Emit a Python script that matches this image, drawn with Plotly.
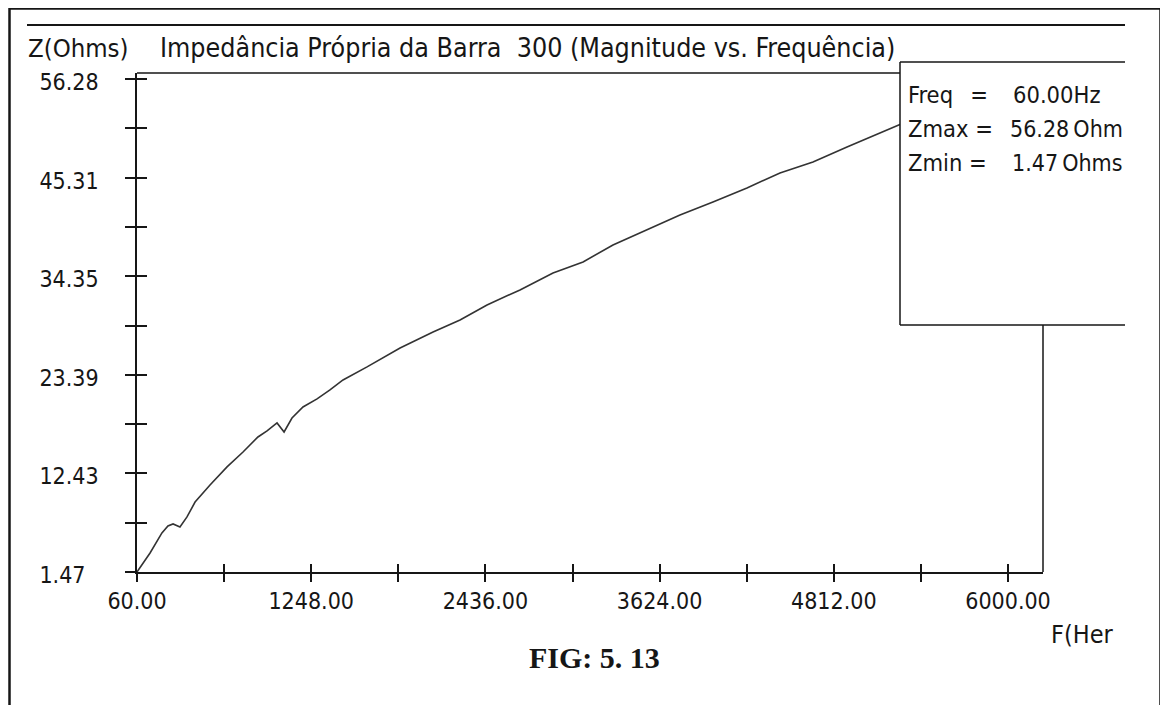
import plotly.graph_objects as go

# ---------------- data ----------------
freq_hz = [60, 149, 230, 271, 306, 353, 401, 456, 558, 674, 783, 885, 947, 1015,
           1063, 1117, 1192, 1288, 1376, 1465, 1629, 1854, 2079, 2263, 2447, 2672,
           2897, 3102, 3306, 3538, 3763, 3988, 4220, 4445, 4670, 4902, 5127, 5250,
           5620, 6000]
z_ohms = [1.47, 3.58, 5.81, 6.59, 6.81, 6.47, 7.59, 9.25, 11.14, 13.15, 14.81, 16.48,
          17.15, 18.04, 17.04, 18.59, 19.82, 20.71, 21.71, 22.82, 24.27, 26.38, 28.16,
          29.49, 31.16, 32.83, 34.72, 35.94, 37.83, 39.50, 41.17, 42.61, 44.17, 45.84,
          47.06, 48.73, 50.29, 51.18, 53.70, 56.28]

x_tick_labels = ["60.00", "1248.00", "2436.00", "3624.00", "4812.00", "6000.00"]
y_tick_labels = ["1.47", "12.43", "23.39", "34.35", "45.31", "56.28"]
selected_freq = 60.00

title_text = "Impedância Própria da Barra  300 (Magnitude vs. Frequência)"
y_title = "Z(Ohms)"
x_title = "F(Her"
fig_caption = "FIG: 5. 13"

# ---------------- derived tick positions (major + intermediate) ----------------
def with_halves(vals):
    out = []
    for i, v in enumerate(vals):
        out.append(v)
        if i < len(vals) - 1:
            out.append((v + vals[i + 1]) / 2)
    return out

xv_major = [float(s) for s in x_tick_labels]
yv_major = [float(s) for s in y_tick_labels]
x_tickvals = with_halves(xv_major)
y_tickvals = with_halves(yv_major)
x_ticktext = [x_tick_labels[i // 2] if i % 2 == 0 else "" for i in range(len(x_tickvals))]
y_ticktext = [y_tick_labels[i // 2] if i % 2 == 0 else "" for i in range(len(y_tickvals))]
y_ticktext = [t + "\u2007" * (5 - len(t)) if t else t for t in y_ticktext]

# the page body has an 8px margin: the figure is drawn 8px in from the window corner
OFF = 8
W, H = 1168 - OFF, 705 - OFF
def PX(px):
    return (px - OFF) / W
def PY(py):
    return 1 - (py - OFF) / H

INK = "#161616"
FONT = "DejaVu Sans Condensed, Liberation Sans Narrow, Arial Narrow, sans-serif"

# axis geometry (window pixels)
ax_left, ax_right, ax_bottom, ax_top = 137, 1043, 572, 73
x_per_px = (xv_major[-1] - xv_major[0]) / (1008 - 137)
y_per_px = (yv_major[-1] - yv_major[0]) / (572 - 79)
x_range = [xv_major[0], xv_major[0] + (ax_right - ax_left) * x_per_px]
y_range = [yv_major[0], yv_major[0] + (ax_bottom - ax_top) * y_per_px]

fig = go.Figure()
fig.add_trace(go.Scatter(x=freq_hz, y=z_ohms, mode="lines",
                         line=dict(color="#333333", width=1.6),
                         hoverinfo="skip", showlegend=False))
# invisible trace on the overlay axes so the crossing ticks are drawn
fig.add_trace(go.Scatter(x=[freq_hz[0]], y=[z_ohms[0]], xaxis="x2", yaxis="y2",
                         mode="markers", marker=dict(opacity=0), showlegend=False,
                         hoverinfo="skip"))

common_axis = dict(showgrid=False, zeroline=False, linecolor=INK, linewidth=1.5,
                   tickcolor=INK, tickwidth=1.5, fixedrange=True, automargin=False)

fig.update_layout(
    width=W, height=H,
    margin=dict(l=0, r=0, t=0, b=0, autoexpand=False),
    paper_bgcolor="white", plot_bgcolor="white",
    font=dict(family=FONT, color=INK, size=23),
    xaxis=dict(domain=[PX(ax_left), PX(ax_right)], range=x_range, anchor="y",
               showline=True, ticks="outside", ticklen=8,
               tickvals=x_tickvals, ticktext=x_ticktext,
               tickfont=dict(size=23, family=FONT, color=INK),
               ticklabelstandoff=0, **common_axis),
    yaxis=dict(domain=[PY(ax_bottom), PY(ax_top)], range=y_range, anchor="x",
               showline=True, ticks="outside", ticklen=10,
               tickvals=y_tickvals, ticktext=y_ticktext,
               tickfont=dict(size=23, family=FONT, color=INK),
               ticklabelstandoff=22, ticklabelshift=3, **common_axis),
    xaxis2=dict(domain=[PX(ax_left), PX(ax_right)], range=x_range, anchor="y2",
                overlaying="x", showline=False, ticks="inside", ticklen=8,
                tickvals=x_tickvals, showticklabels=False, **common_axis),
    yaxis2=dict(domain=[PY(ax_bottom), PY(ax_top)], range=y_range, anchor="x2",
                overlaying="y", showline=False, ticks="inside", ticklen=10,
                tickvals=y_tickvals, showticklabels=False, **common_axis),
)

shapes = []
def line(x0, y0, x1, y1, w=1.5, color=INK):
    shapes.append(dict(type="line", xref="paper", yref="paper",
                       x0=PX(x0), y0=PY(y0), x1=PX(x1), y1=PY(y1),
                       line=dict(color=color, width=w), layer="above"))

# outer frame
shapes.append(dict(type="rect", xref="paper", yref="paper",
                   x0=PX(9.5), y0=PY(712), x1=PX(1160.5), y1=PY(8.5),
                   line=dict(color=INK, width=2.5), fillcolor="rgba(0,0,0,0)"))
# header rule
line(27, 25, 1125, 25, 1.8)
# plot top border
line(ax_left, ax_top, 900, ax_top, 1.5)
# info box (white, hides the curve)
shapes.append(dict(type="rect", xref="paper", yref="paper",
                   x0=PX(900), y0=PY(325), x1=PX(1125), y1=PY(62),
                   line=dict(width=0), fillcolor="white", layer="above"))
line(900, 62, 1125, 62, 1.5)
line(900, 62, 900, 325, 1.5)
line(900, 325, 1125, 325, 1.5)
line(ax_right, 325, ax_right, ax_bottom, 1.5)
fig.update_layout(shapes=shapes)

ann = []
def text(x, y, s, size=23, anchor="left", family=FONT, **kw):
    ann.append(dict(xref="paper", yref="paper", x=PX(x), y=PY(y), text=s,
                    showarrow=False, xanchor=anchor, yanchor="middle",
                    borderpad=0, font=dict(size=size, family=family, color=INK), **kw))

text(27, 48, y_title, 25.5)
text(159, 48, title_text, 26.6)
text(1050, 634, x_title, 25)
text(594, 657, "<b>" + fig_caption + "</b>", 30, anchor="center",
     family="Liberation Serif, Times New Roman, serif")

zmax = max(z_ohms)
zmin = min(z_ohms)
text(907, 95, "Freq\u2002 = ", 23.5)
text(1012, 95, f"{selected_freq:.2f}Hz", 23.5)
text(907, 129, "Zmax = ", 23.5)
text(1009, 129, f"{zmax:.2f}\u2009Ohm", 23)
text(907, 163, "Zmin = ", 23.5)
text(1011, 163, f"{zmin:.2f}\u2009Ohms", 23)
fig.update_layout(annotations=ann)

fig.write_html("out.html")
